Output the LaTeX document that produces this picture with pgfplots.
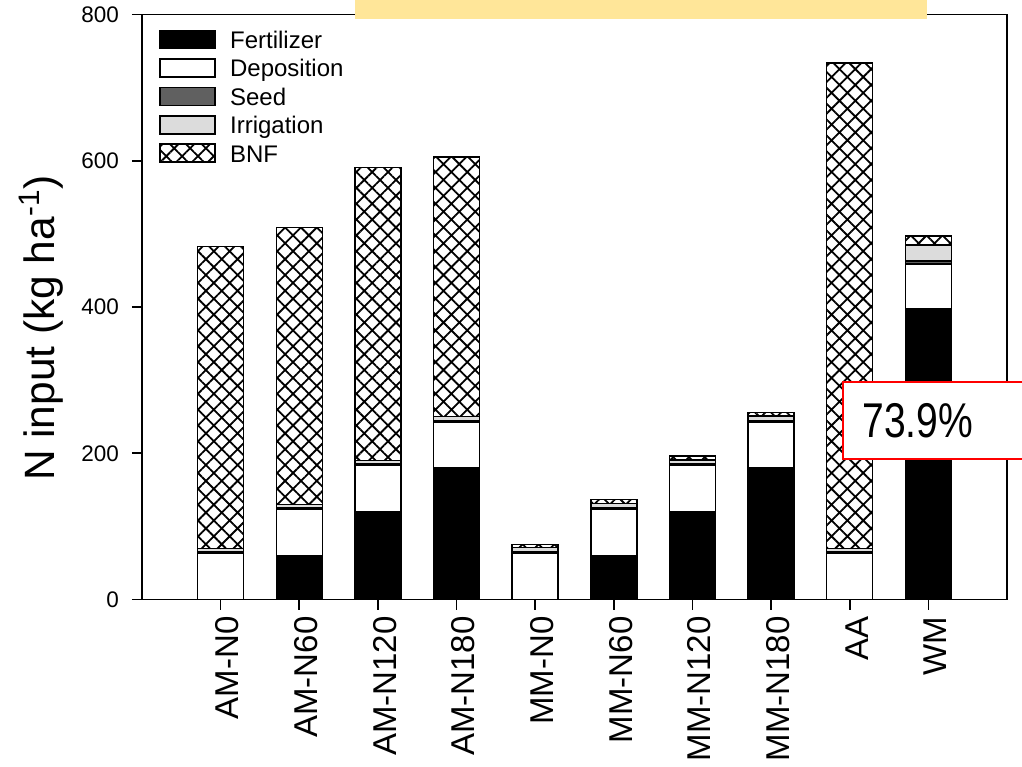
\documentclass[border=0pt]{standalone}
\usepackage{pgfplots}
\pgfplotsset{compat=1.18}
\usepackage{pgfplotstable}
\usepackage{fontspec}
\setmainfont{Liberation Sans}
\usetikzlibrary{patterns.meta}

\definecolor{seedgray}{HTML}{606060}
\definecolor{irrgray}{HTML}{DCDCDC}
\definecolor{banner}{HTML}{FFE699}

% N inputs (kg N/ha) by source for each system
\pgfplotstableread{
pos fert dep seed irr bnf
0   0    63  2    5   413
1   60   63  2    5   379
2   120  63  2    5   401
3   180  63  2    5   355
4   0    63  2    6   4.5
5   60   63  2    6   6
6   120  63  2    6   5
7   180  63  2    6   4.5
8   0    63  2    5   664
9   397  62  4    22  12
}\ninput

\begin{document}
\begin{tikzpicture}[x=1pt,y=1pt]
\begin{axis}[
  at={(0,0)}, anchor=south west,
  scale only axis, width=432.5pt, height=292.5pt,
  xmin=-1, xmax=10, ymin=0, ymax=800,
  ybar stacked, bar width=23pt,
  every axis plot post/.append style={
    legend image code/.code={\draw[##1] (0pt,-3pt) rectangle (27.5pt,6pt);}},
  axis line style={line width=0.8pt},
  tick style={black, line width=0.8pt},
  tick align=outside, tick pos=left, major tick length=5pt,
  xtick={0,...,9},
  xticklabels={AM-N0,AM-N60,AM-N120,AM-N180,MM-N0,MM-N60,MM-N120,MM-N180,AA,WM},
  x tick label style={rotate=90, anchor=east, yshift=-3.5pt,
    font=\fontsize{16.5}{19}\selectfont},
  ytick={0,200,400,600,800},
  y tick label style={xshift=-3pt, font=\fontsize{11.25}{13}\selectfont},
  /pgf/number format/assume math mode=true,
  ylabel={N input (kg ha\textsuperscript{-1})},
  every axis y label/.style={at={(axis description cs:-0.116,0.464)},
    rotate=90, anchor=center, font=\fontsize{21.2}{25}\selectfont},
  legend style={at={(axis description cs:0.0125,0.9816)}, anchor=north west,
    draw=none, fill=none, font=\fontsize{12}{14}\selectfont,
    row sep=1.85pt, column sep=5.2pt,
    nodes={text height=8.5pt, text depth=2.5pt, inner ysep=0.5pt}},
  legend cell align=left,
]
\addplot[fill=black, draw=black, line width=0.75pt] table[x=pos,y=fert] {\ninput};
\addplot[fill=white, draw=black, line width=0.75pt] table[x=pos,y=dep] {\ninput};
\addplot[fill=seedgray, draw=black, line width=0.75pt] table[x=pos,y=seed] {\ninput};
\addplot[fill=irrgray, draw=black, line width=0.75pt] table[x=pos,y=irr] {\ninput};
\addplot[draw=black, line width=0.75pt, pattern color=black,
  pattern={Hatch[distance=5.6pt, angle=45, line width=0.9pt]}] table[x=pos,y=bnf] {\ninput};
\legend{Fertilizer,Deposition,Seed,Irrigation,BNF}
\end{axis}

% banner strip along the top edge
\fill[banner] (106.5,290.25) rectangle (392.5,320);
% call-out box
\draw[red, line width=1pt, fill=white] (350.35,70.25) rectangle (460,108.75);
\node[anchor=west, inner sep=0pt, xscale=0.8, font=\fontsize{24.4}{28}\selectfont]
  at (360,89.5) {73.9\%};

\pgfresetboundingbox
\path[use as bounding box] (-71,-83.25) rectangle (440,299.75);
\end{tikzpicture}
\end{document}
